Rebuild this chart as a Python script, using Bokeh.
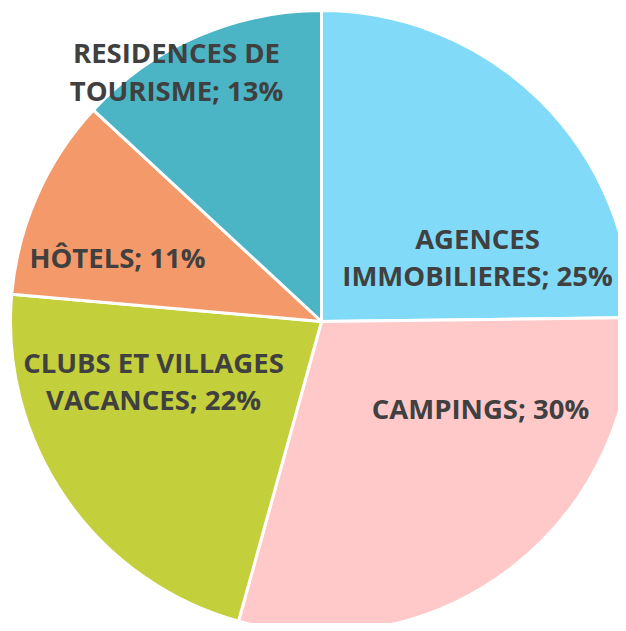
import math
from bokeh.plotting import figure
from bokeh.models import Range1d, ColumnDataSource
from bokeh.core.properties import value
from bokeh.embed import file_html
from bokeh.resources import INLINE

# Data
categories = ["AGENCES IMMOBILIERES", "CAMPINGS", "CLUBS ET VILLAGES VACANCES", "HÔTELS", "RESIDENCES DE TOURISME"]
shares = [24.8, 29.5, 22.1, 10.5, 13.1]
label_lines = [["AGENCES", "IMMOBILIERES; 25%"], ["CAMPINGS; 30%"], ["CLUBS ET VILLAGES", "VACANCES; 22%"],
               ["HÔTELS; 11%"], ["RESIDENCES DE", "TOURISME; 13%"]]
colors = ["#81dbf8", "#ffc9c9", "#c3cf3b", "#f49a6a", "#4bb4c5"]

# Layout (pixel coordinates of the picture)
W, H = 618, 623
cx, cy, R = 321, 321, 311
label_pos = [[(477, 238), (477, 275)], [(480, 408)], [(153, 362), (153, 399)], [(117, 257)], [(176, 52), (176, 90)]]

def Y(py):
    return H - py

p = figure(width=W, height=H, output_backend="svg", toolbar_location=None,
           x_range=Range1d(0, W), y_range=Range1d(0, H), min_border=0)
p.axis.visible = False
p.grid.visible = False
p.outline_line_color = None
p.background_fill_color = "white"
p.border_fill_color = "white"

total = sum(shares)
starts, ends = [], []
cum = 0.0
for s in shares:
    starts.append(math.pi / 2 - cum / total * 2 * math.pi)
    cum += s
    ends.append(math.pi / 2 - cum / total * 2 * math.pi)

src = ColumnDataSource(dict(x=[cx] * len(shares), y=[Y(cy)] * len(shares), start=starts, end=ends,
                            color=colors, cat=categories))
p.wedge(x="x", y="y", radius=R, start_angle="start", end_angle="end", direction="clock",
        fill_color="color", line_color="white", line_width=3, source=src)

tx, ty, tt = [], [], []
for lines, poss in zip(label_lines, label_pos):
    for t, (px, py) in zip(lines, poss):
        tx.append(px)
        ty.append(Y(py))
        tt.append(t)
p.text(x=tx, y=ty, text=tt, text_font=value("Open Sans"), text_font_style="bold",
       text_font_size="27.5px", text_color="#404040", text_align="center", text_baseline="alphabetic")

open("out.html", "w").write(file_html(p, INLINE))
